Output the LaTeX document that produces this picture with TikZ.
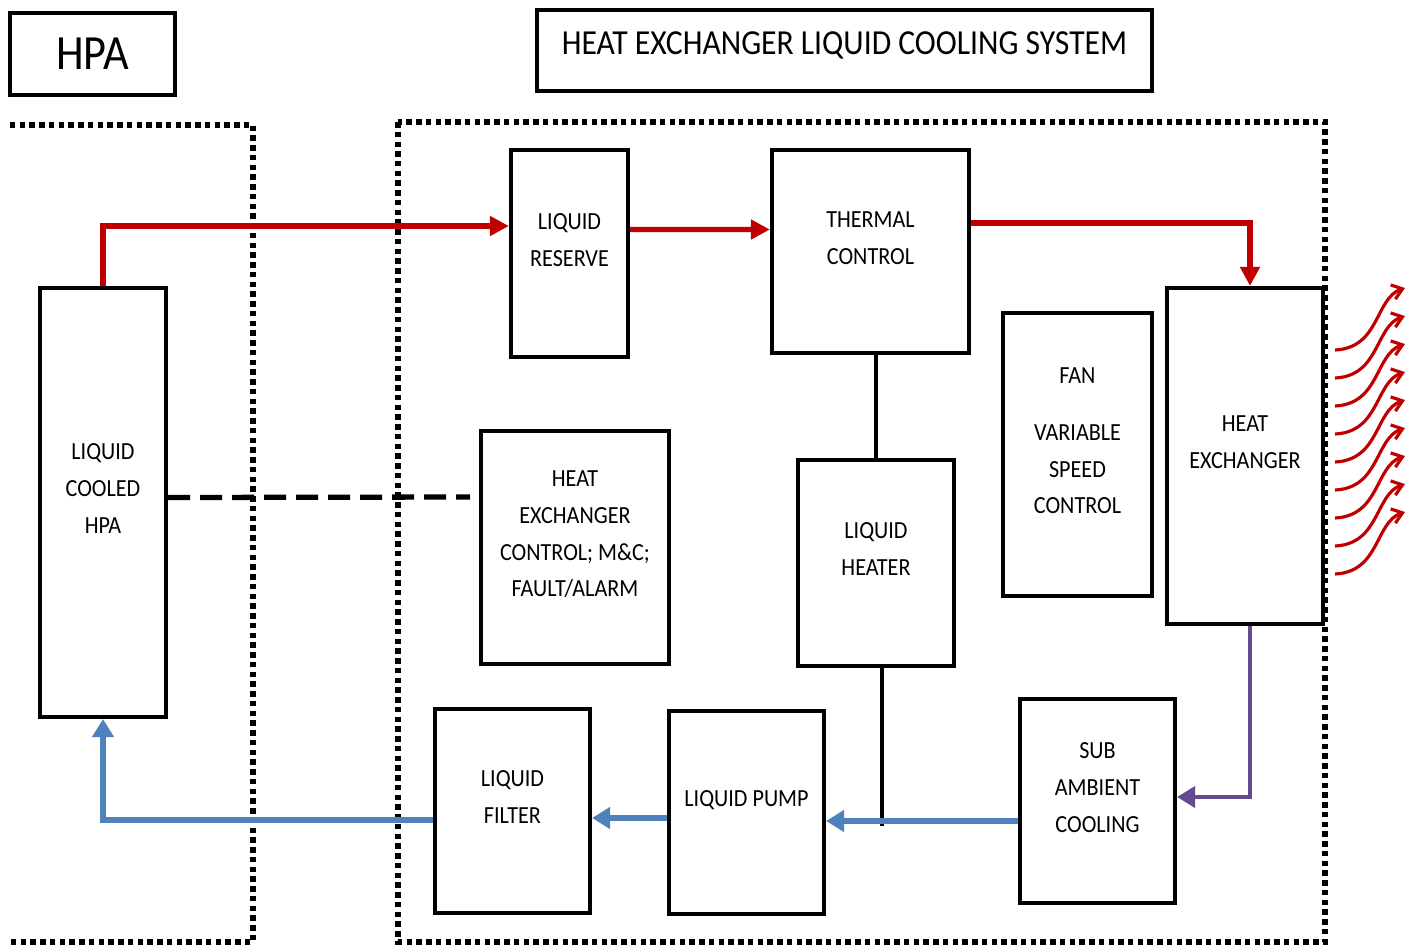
\documentclass[tikz,border=0pt]{standalone}
\usepackage{fontspec}
\setmainfont{Carlito}[FakeStretch=0.9]
\usepackage{tikz}
\usetikzlibrary{arrows.meta, calc}
\definecolor{flowred}{RGB}{192, 0, 0}
\definecolor{flowblue}{RGB}{79, 129, 189}
\definecolor{flowpurple}{RGB}{100, 75, 145}

\begin{document}
\begin{tikzpicture}[x=0.02cm, y=-0.02cm,
    unit/.style={rectangle, draw, line width=2.4pt, align=center, font=\fontsize{14}{21}\selectfont, text depth=0.55cm},
    tag/.style={rectangle, draw, line width=2.4pt, align=center},
    region/.style={line width=0.12cm, dash pattern=on 0.11cm off 0.085cm},
    redflow/.style={draw=flowred, line width=3pt, -{Triangle[length=0.38cm, width=0.38cm]}},
    blueflow/.style={draw=flowblue, line width=3.2pt, -{Triangle[length=0.36cm, width=0.42cm]}},
    purpleflow/.style={draw=flowpurple, line width=2.2pt, -{Triangle[length=0.36cm, width=0.42cm]}},
    link/.style={line width=2pt},
    signal/.style={line width=3pt, dash pattern=on 0.44cm off 0.2cm},
    heatwave/.style={draw=flowred, line width=1.8pt, -{Straight Barb[length=0.2cm, width=0.3cm]}}]
    \useasboundingbox (0,0) rectangle (1418,947);

    \node[tag, minimum width=3.3cm, minimum height=1.64cm, font=\fontsize{28}{30}\selectfont] (hpa) at (92.5,54) {HPA};
    \node[tag, minimum width=12.3cm, minimum height=1.62cm, font=\fontsize{20}{24}\selectfont, text depth=0.3cm] (title) at (844.5,50.5) {HEAT EXCHANGER LIQUID COOLING SYSTEM};

    \draw[region] (10,125) -- (253,125) -- (253,942) -- (10,942);
    \draw[region] (398,122) rectangle (1325,942);

    \node[unit, minimum width=2.52cm, minimum height=8.58cm] (lchpa) at (103,502.5) {LIQUID\\COOLED\\HPA};
    \node[unit, minimum width=2.34cm, minimum height=4.14cm] (reserve) at (569.5,253.5) {LIQUID\\RESERVE};
    \node[unit, minimum width=3.94cm, minimum height=4.06cm] (thermal) at (870.5,251.5) {THERMAL\\CONTROL};
    \node[unit, minimum width=3.76cm, minimum height=4.66cm] (hxctrl) at (575,547.5) {HEAT\\EXCHANGER\\CONTROL; M\&C;\\FAULT/ALARM};
    \node[unit, minimum width=3.12cm, minimum height=4.12cm] (heater) at (876,563) {LIQUID\\HEATER};
    \node[unit, minimum width=2.98cm, minimum height=5.66cm] (fan) at (1077.5,454.5) {FAN\\[0.4cm]VARIABLE\\SPEED\\CONTROL};
    \node[unit, minimum width=3.12cm, minimum height=6.72cm] (hx) at (1245,456) {HEAT\\EXCHANGER};
    \node[unit, minimum width=3.1cm, minimum height=4.08cm] (subamb) at (1097.5,801) {SUB\\AMBIENT\\COOLING};
    \node[unit, minimum width=3.1cm, minimum height=4.08cm] (filter) at (512.5,811) {LIQUID\\FILTER};
    \node[unit, minimum width=3.1cm, minimum height=4.06cm] (pump) at (746.5,812.5) {LIQUID PUMP};

    \coordinate (tap) at (882,826);
    \coordinate (sigend) at (470,497);

    \draw[redflow] (lchpa.north) |- ([yshift=0.55cm]reserve.west);
    \draw[redflow] ([yshift=0.48cm]reserve.east) -- ([yshift=0.44cm]thermal.west);
    \draw[redflow] ([yshift=0.57cm]thermal.east) -| ([xshift=0.1cm]hx.north);
    \draw[link] (heater.north |- thermal.south) -- (heater.north);
    \draw[link] (heater.south -| tap) -- (tap);
    \draw[purpleflow] ([xshift=0.1cm]hx.south) |- ([yshift=0.08cm]subamb.east);
    \draw[blueflow] ([yshift=-0.4cm]subamb.west) -- ([yshift=-0.17cm]pump.east);
    \draw[blueflow] ([yshift=-0.11cm]pump.west) -- ([yshift=-0.14cm]filter.east);
    \draw[blueflow] ([yshift=-0.18cm]filter.west) -| (lchpa.south);
    \draw[signal] ([yshift=0.1cm]lchpa.east) -- (sigend);

    \foreach \i in {0,...,8}
        \draw[heatwave] (1335,{350+28*\i}) .. controls +(45,-2) and +(-30,10) .. +(70,-62);
\end{tikzpicture}
\end{document}
